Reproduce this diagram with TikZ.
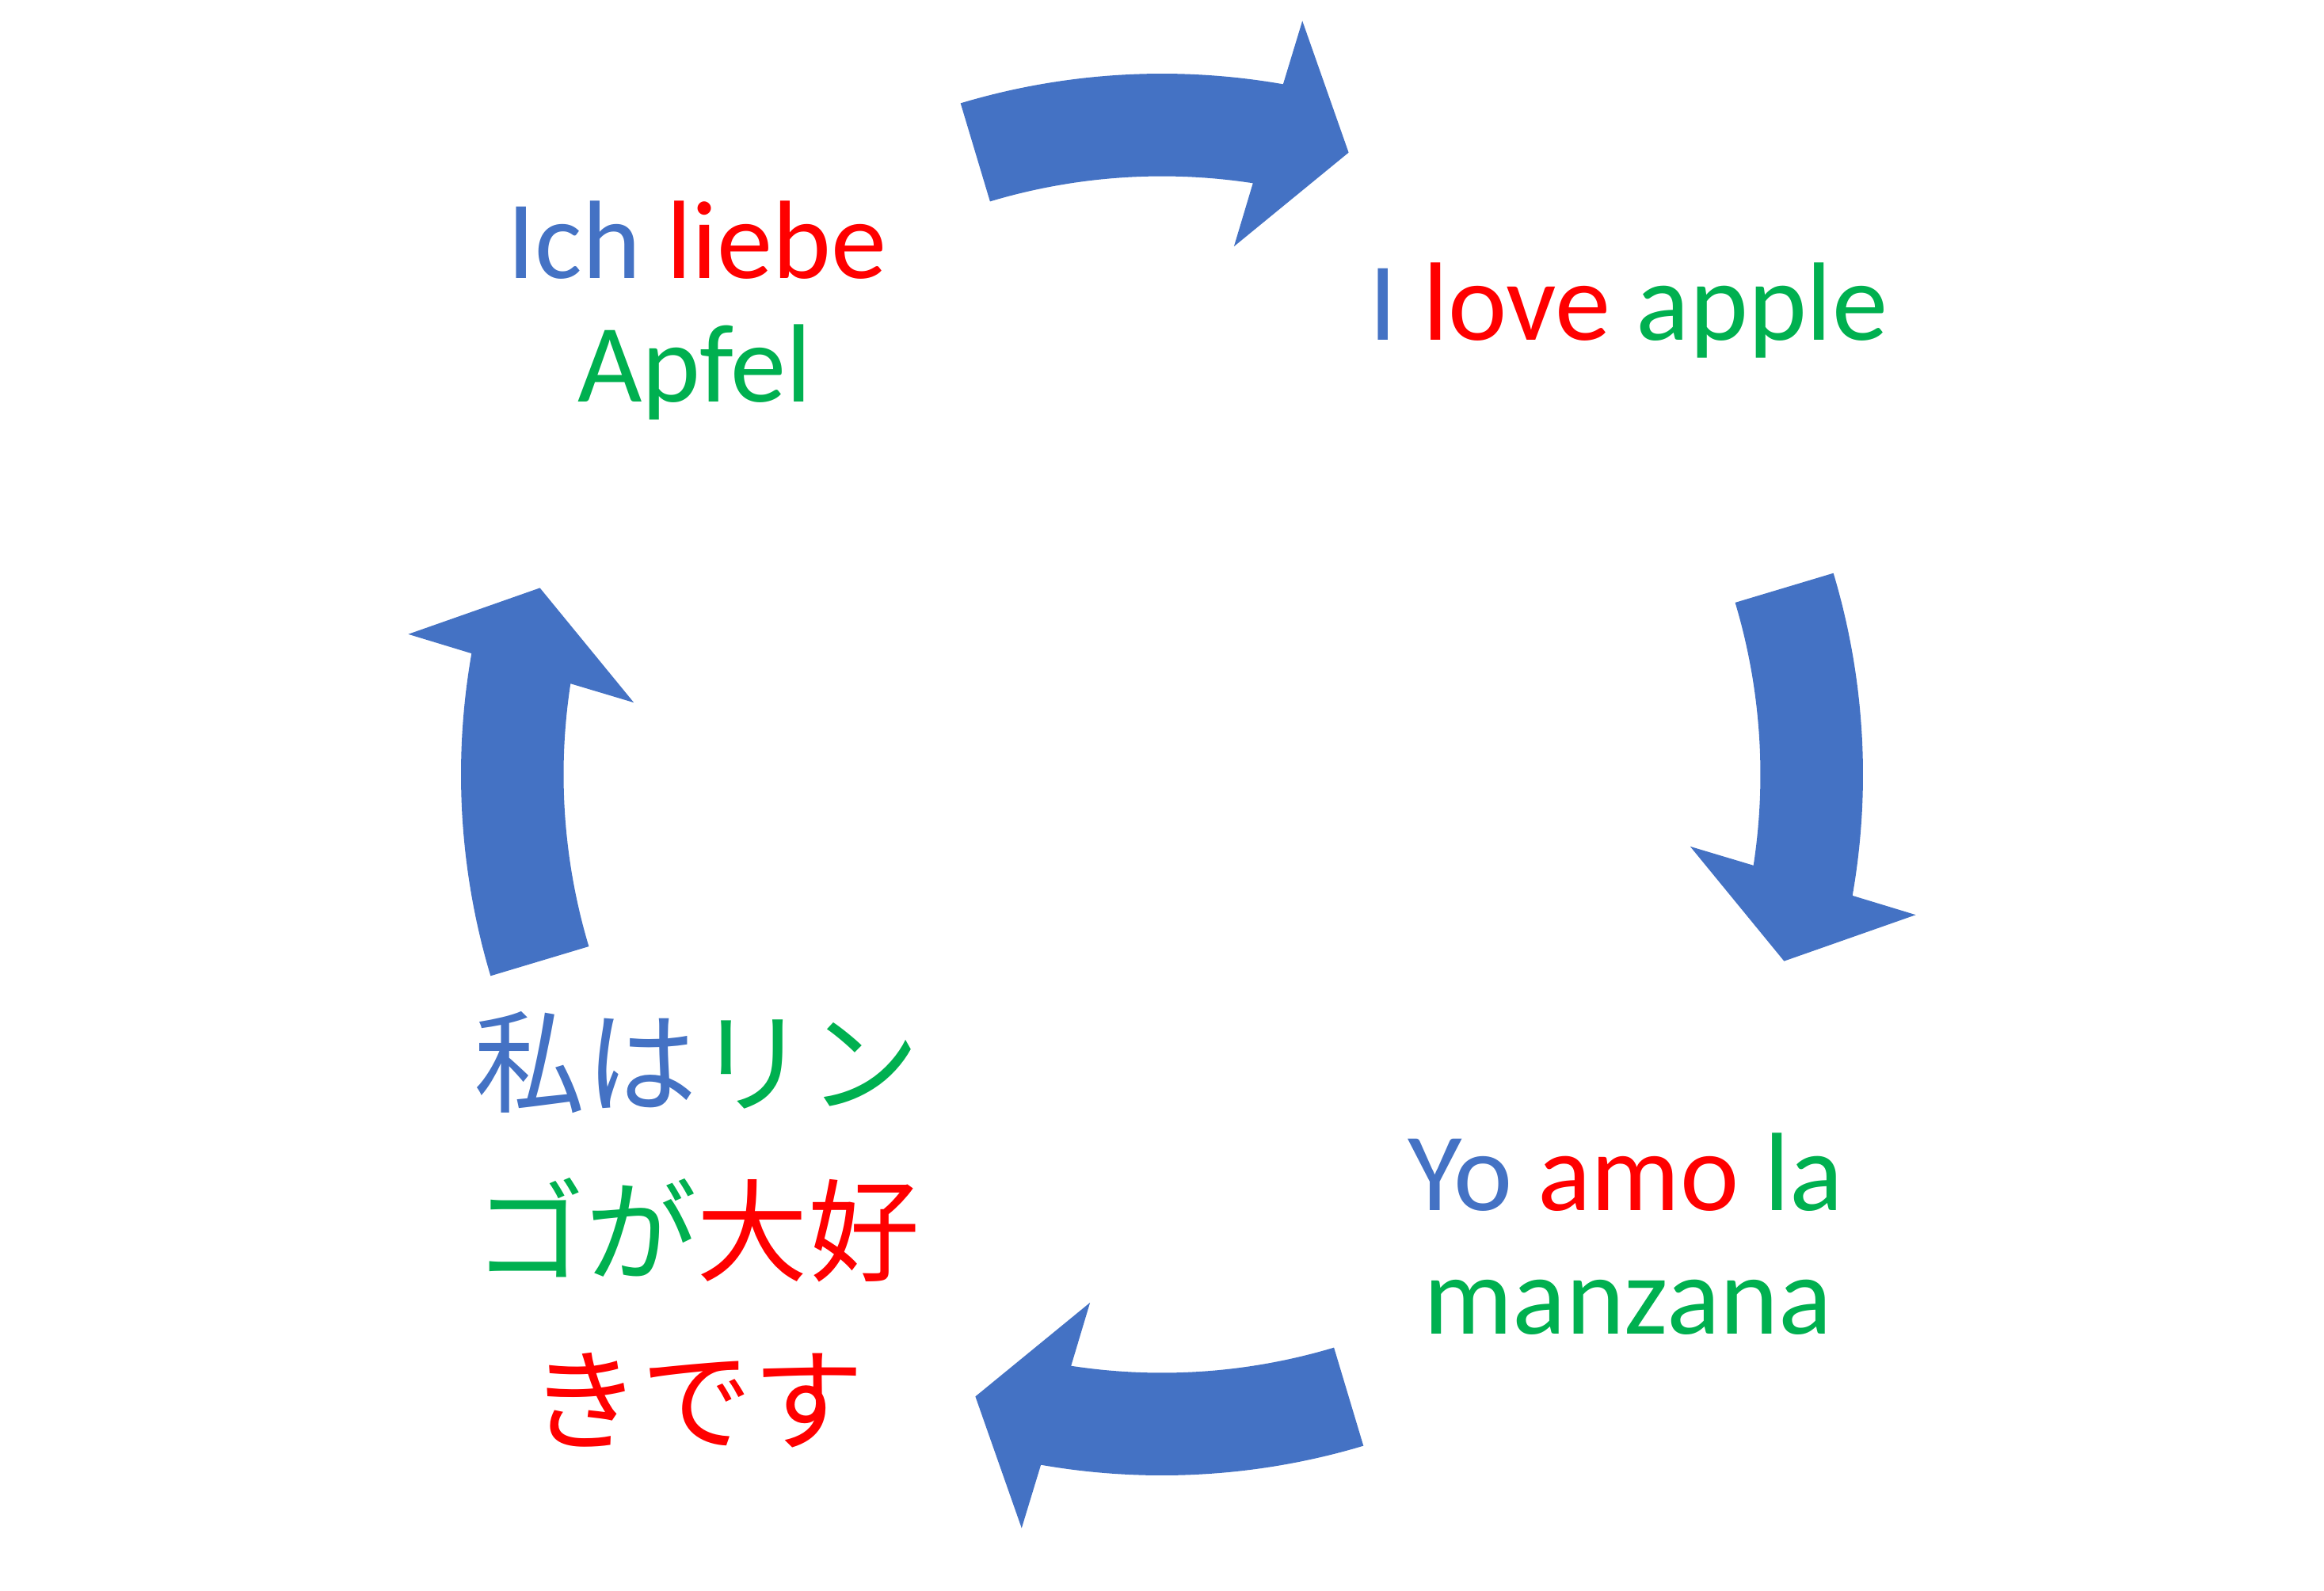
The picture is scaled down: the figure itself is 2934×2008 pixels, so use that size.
\documentclass[tikz,border=0pt]{standalone}
\usepackage{fontspec}
\setmainfont{Carlito}
\newfontfamily\jpfont{Noto Sans CJK JP}
\definecolor{arrowblue}{HTML}{4472C4}
\definecolor{wordred}{HTML}{FF0000}
\definecolor{wordgreen}{HTML}{00B050}

\begin{document}
\begin{tikzpicture}[x=0.01cm,y=0.01cm,
  arrowband/.style={fill=arrowblue},
  word/.style={anchor=base,inner sep=0pt,font=\fontsize{40}{48}\selectfont},
  jpword/.style={anchor=base,inner sep=0pt,font=\fontsize{40}{48}\selectfont\jpfont}]
\useasboundingbox (-1467,-1030) rectangle (1467,978);
\foreach \r in {0,-90,-180,-270}
  \fill[arrowband] ({106.7+\r}:885) arc[start angle={106.7+\r},end angle={80.05+\r},radius=885]
    -- ({79.45+\r}:968) -- ({73.3+\r}:820) -- ({82.24+\r}:673) -- ({81.26+\r}:755.5)
    arc[start angle={81.26+\r},end angle={106.7+\r},radius=755.5] -- cycle;
\node[word] (ich) at (-587,627) {\textcolor{arrowblue}{Ich} \textcolor{wordred}{liebe}};
\node[word,text=wordgreen] (apfel) at (-590,471) {Apfel};
\node[word] (ilove) at (589,549) {\textcolor{arrowblue}{I} \textcolor{wordred}{love} \textcolor{wordgreen}{apple}};
\node[word] (yoamo) at (585,-550) {\textcolor{arrowblue}{Yo} \textcolor{wordred}{amo} \textcolor{wordgreen}{la}};
\node[word,text=wordgreen] (manzana) at (588,-706) {manzana};
\node[jpword] (jpa) at (-587,-416) {\textcolor{arrowblue}{私は}\textcolor{wordgreen}{リン}};
\node[jpword] (jpb) at (-587,-629) {\textcolor{wordgreen}{ゴが}\textcolor{wordred}{大好}};
\node[jpword,text=wordred] (jpc) at (-587,-842) {きです};
\end{tikzpicture}
\end{document}
